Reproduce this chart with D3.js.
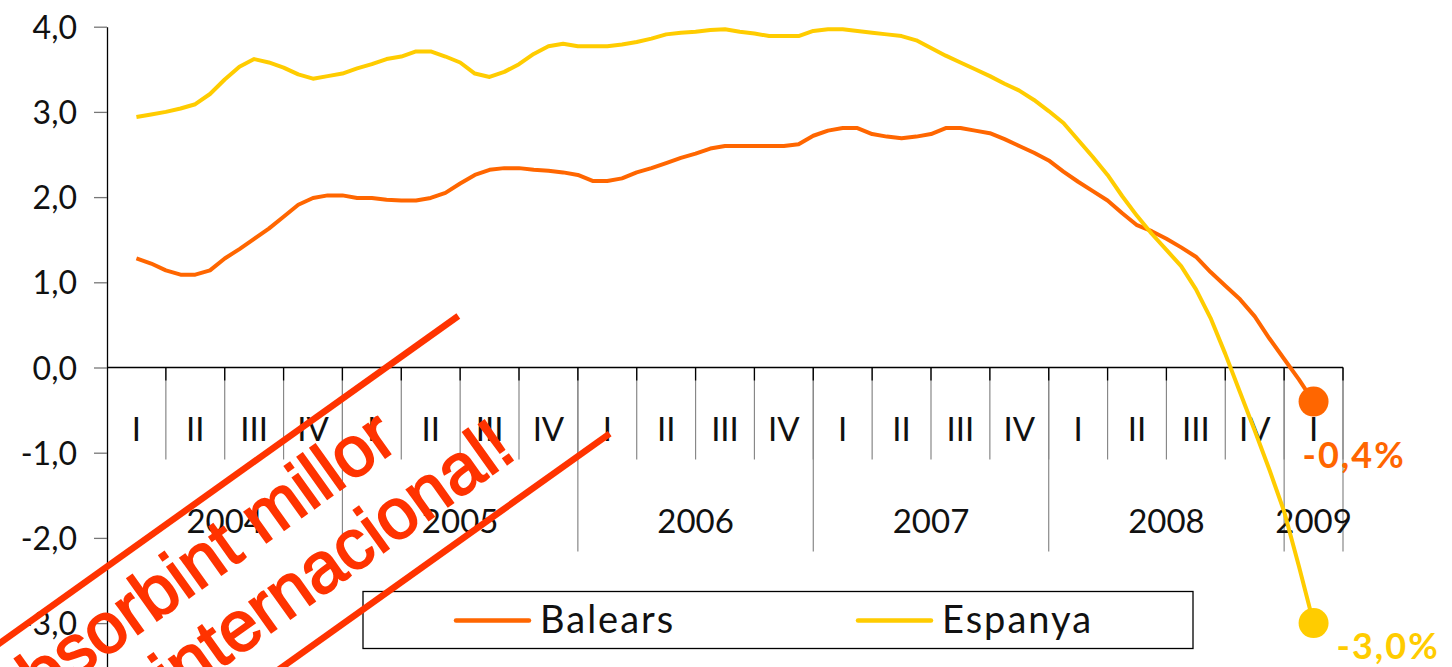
<!DOCTYPE html>
<meta charset="utf-8">
<title>Balears / Espanya</title>
<style>

html, body {
  margin: 0;
  background: #fff;
  overflow: hidden;
}

.label {
  font: 33px Lato, "Noto Sans", sans-serif;
  fill: #111;
}

.ytick text {
  font: 32px Lato, "Noto Sans", sans-serif;
  fill: #111;
}

.endlabel {
  font: bold 36px Lato, "Noto Sans", sans-serif;
  letter-spacing: 2px;
}

.legend text {
  font: 38px Lato, "Noto Sans", sans-serif;
  letter-spacing: 2px;
  fill: #111;
}

.stamp text {
  font: 71px "Liberation Sans", Arial, sans-serif;
  fill: #ff3300;
  stroke: #ff3300;
  stroke-width: 2px;
}

</style>
<svg width="1452" height="667"></svg>
<script src="https://d3js.org/d3.v7.min.js"></script>
<script>

// categories
var quarters = ["I","II","III","IV","I","II","III","IV","I","II","III","IV",
                "I","II","III","IV","I","II","III","IV","I"];
var years = ["2004","2005","2006","2007","2008","2009"];
var yearLength = [4, 4, 4, 4, 4, 1];   // quarters per year on the axis
var yTicks = [4, 3, 2, 1, 0, -1, -2, -3];

// series: 4 readings per quarter, 2004 I .. 2009 I
var balears = [
  1.28, 1.22, 1.14, 1.09,   1.09, 1.14, 1.28, 1.39,
  1.51, 1.63, 1.77, 1.91,   1.99, 2.02, 2.02, 1.99,
  1.99, 1.97, 1.96, 1.96,   1.99, 2.05, 2.16, 2.26,
  2.32, 2.34, 2.34, 2.32,   2.31, 2.29, 2.26, 2.19,
  2.19, 2.22, 2.29, 2.34,   2.40, 2.46, 2.51, 2.57,
  2.60, 2.60, 2.60, 2.60,   2.60, 2.62, 2.72, 2.78,
  2.81, 2.81, 2.74, 2.71,   2.69, 2.71, 2.74, 2.81,
  2.81, 2.78, 2.75, 2.68,   2.60, 2.52, 2.43, 2.30,
  2.18, 2.07, 1.96, 1.81,   1.67, 1.60, 1.51, 1.41,
  1.30, 1.12, 0.96, 0.80,   0.60, 0.34, 0.10, -0.14,
  -0.4
];
var espanya = [
  2.94, 2.97, 3.00, 3.04,   3.09, 3.21, 3.38, 3.53,
  3.62, 3.58, 3.52, 3.44,   3.39, 3.42, 3.45, 3.51,
  3.56, 3.62, 3.65, 3.71,   3.71, 3.65, 3.58, 3.45,
  3.41, 3.47, 3.56, 3.68,   3.77, 3.80, 3.77, 3.77,
  3.77, 3.79, 3.82, 3.86,   3.91, 3.93, 3.94, 3.96,
  3.97, 3.94, 3.92, 3.89,   3.89, 3.89, 3.95, 3.97,
  3.97, 3.95, 3.93, 3.91,   3.89, 3.84, 3.75, 3.66,
  3.58, 3.50, 3.42, 3.33,   3.25, 3.14, 3.01, 2.87,
  2.67, 2.47, 2.26, 2.01,   1.78, 1.57, 1.38, 1.19,
  0.92, 0.58, 0.16, -0.29,  -0.74, -1.20, -1.69, -2.33,
  -3.0
];
var seriesNames = ["Balears", "Espanya"];
var endLabels = ["-0,4%", "-3,0%"];
var stampLines = ["absorbint millor", "internacional!"];

var perQuarter = 4;
var colors = ["#ff6600", "#ffcc00"];

var svg = d3.select("svg");

svg.append("rect").attr("width", 1452).attr("height", 667).attr("fill", "#fff");

var x = d3.scaleLinear().domain([-0.5, quarters.length - 0.5]).range([107, 1343]),
    y = d3.scaleLinear().domain([-4, 4]).range([708.3, 26.7]);

var fmt = function(d) { return d.toFixed(1).replace(".", ","); };

// y axis
var yAxis = svg.append("g")
    .attr("class", "ytick")
    .attr("transform", "translate(107,0)")
    .call(d3.axisLeft(y).tickValues(yTicks).tickSize(13).tickSizeOuter(0)
      .tickPadding(17).tickFormat(fmt));
yAxis.select(".domain").attr("stroke", "#000").attr("stroke-width", 1.3);
yAxis.selectAll(".tick line").attr("stroke", "#777").attr("stroke-width", 1.3);
yAxis.selectAll(".tick text").attr("dy", "0.36em");

// category axis (two levels)
var y0 = y(0);
var cat = svg.append("g");

// quarter separators
var bounds = d3.range(1, quarters.length + 1);
cat.selectAll(".qsep").data(bounds).enter().append("line")
    .attr("x1", function(d) { return x(d - 0.5); })
    .attr("x2", function(d) { return x(d - 0.5); })
    .attr("y1", y0)
    .attr("y2", y0 + 92)
    .attr("stroke", "#888")
    .attr("stroke-width", 1.2);

// year separators
var yearEnds = d3.cumsum(yearLength);
cat.selectAll(".ysep").data(Array.from(yearEnds)).enter().append("line")
    .attr("x1", function(d) { return x(d - 0.5); })
    .attr("x2", function(d) { return x(d - 0.5); })
    .attr("y1", y0)
    .attr("y2", y0 + 184)
    .attr("stroke", "#888")
    .attr("stroke-width", 1.2);

// small dark tick marks on the axis
cat.selectAll(".qtick").data(bounds).enter().append("line")
    .attr("x1", function(d) { return x(d - 0.5); })
    .attr("x2", function(d) { return x(d - 0.5); })
    .attr("y1", y0)
    .attr("y2", y0 + 13)
    .attr("stroke", "#000")
    .attr("stroke-width", 1.3);

cat.append("line")
    .attr("x1", x(-0.5)).attr("x2", x(quarters.length - 0.5))
    .attr("y1", y0).attr("y2", y0)
    .attr("stroke", "#000").attr("stroke-width", 1.3);

cat.selectAll(".qlabel").data(quarters).enter().append("text")
    .attr("class", "label")
    .attr("text-anchor", "middle")
    .attr("x", function(d, i) { return x(i); })
    .attr("y", y0 + 73)
    .text(function(d) { return d; });

cat.selectAll(".ylabel").data(years).enter().append("text")
    .attr("class", "label")
    .attr("text-anchor", "middle")
    .attr("x", function(d, i) {
      var end = yearEnds[i], start = end - yearLength[i];
      return (x(start - 0.5) + x(end - 0.5)) / 2;
    })
    .attr("y", y0 + 165)
    .text(function(d) { return d; });

// legend
var legend = svg.append("g").attr("class", "legend");
legend.append("rect")
    .attr("x", 363).attr("y", 591.5).attr("width", 830).attr("height", 57)
    .attr("fill", "#fff").attr("stroke", "#000").attr("stroke-width", 1.3);
var legX = [456, 858];
seriesNames.forEach(function(name, i) {
  legend.append("line")
      .attr("x1", legX[i]).attr("x2", legX[i] + 73)
      .attr("y1", 620.5).attr("y2", 620.5)
      .attr("stroke", colors[i]).attr("stroke-width", 4.5)
      .attr("stroke-linecap", "round");
  legend.append("text")
      .attr("x", legX[i] + 84).attr("y", 633)
      .text(name);
});

// lines
var line = d3.line()
    .x(function(d, i) { return x(i / perQuarter); })
    .y(function(d) { return y(d); });

var allSeries = [balears, espanya];
var labelOffset = [[-11, 66], [23, 36]];

allSeries.forEach(function(s, k) {
  svg.append("path")
      .datum(s)
      .attr("fill", "none")
      .attr("stroke", colors[k])
      .attr("stroke-width", 4)
      .attr("stroke-linejoin", "round")
      .attr("d", line);

  var last = s.length - 1;
  var cx = x(last / perQuarter), cy = y(s[last]);
  svg.append("circle")
      .attr("cx", cx).attr("cy", cy).attr("r", 15)
      .attr("fill", colors[k]);
  svg.append("text")
      .attr("class", "endlabel")
      .attr("x", cx + labelOffset[k][0])
      .attr("y", cy + labelOffset[k][1])
      .attr("fill", colors[k])
      .text(endLabels[k]);
});

// stamp overlay
var stamp = svg.append("g")
    .attr("class", "stamp")
    .attr("transform", "translate(458.3,316) rotate(-35.5)");
stamp.append("line")
    .attr("x1", -900).attr("x2", 0).attr("y1", 0).attr("y2", 0)
    .attr("stroke", "#ff3300").attr("stroke-width", 6.5);
stamp.append("line")
    .attr("x1", -900).attr("x2", 55).attr("y1", 183.6).attr("y2", 183.6)
    .attr("stroke", "#ff3300").attr("stroke-width", 6.5);
stamp.append("text")
    .attr("text-anchor", "end")
    .attr("x", -123).attr("y", 73)
    .text(stampLines[0]);
stamp.append("text")
    .attr("text-anchor", "end")
    .attr("x", -33).attr("y", 149)
    .text(stampLines[1]);

</script>
